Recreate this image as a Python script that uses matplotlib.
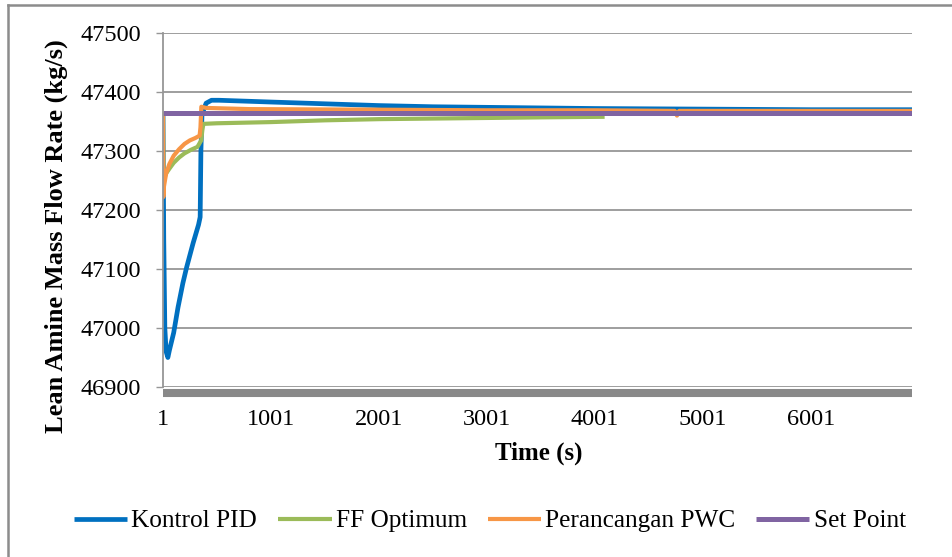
import matplotlib
matplotlib.use("Agg")
import matplotlib.pyplot as plt
from matplotlib.lines import Line2D

# Time knots (s) and lean amine flow (kg/s) for each control scheme
pid_t = [1, 8, 18, 30, 46, 60, 100, 140, 185, 220, 280, 330, 345, 352, 362,
         400, 450, 520, 1000, 1500, 2000, 2500, 3000, 4000, 5000, 6000, 6936]
pid_v = [47365, 47150, 47000, 46960, 46950, 46962, 46992, 47035, 47076, 47103,
         47144, 47175, 47188, 47300, 47362, 47381, 47386, 47386, 47383, 47380,
         47377, 47375, 47374, 47372, 47371, 47370, 47370]

ff_t = [1, 5, 30, 60, 100, 150, 200, 260, 320, 355, 365, 375, 500, 1000, 1500,
        2000, 2500, 3000, 3500, 4090]
ff_v = [47365, 47251, 47262, 47270, 47280, 47289, 47296, 47302, 47307, 47318,
        47335, 47346, 47347, 47349, 47352, 47354, 47355, 47356, 47357, 47358]

pwc_t = [1, 4, 10, 30, 60, 100, 150, 200, 250, 300, 340, 348, 356, 400, 800,
         2000, 3000, 4000, 4740, 4760, 4780, 5500, 6936]
pwc_v = [47365, 47222, 47240, 47262, 47278, 47292, 47303, 47312, 47318, 47322,
         47326, 47340, 47375, 47373, 47371, 47370, 47369, 47369, 47368, 47360,
         47368, 47368, 47368]

sp_t = [1, 6936]
sp_v = [47365, 47365]

x_ticks = [1, 1001, 2001, 3001, 4001, 5001, 6001]
y_ticks = [46900, 47000, 47100, 47200, 47300, 47400, 47500]

series = [
    ("Kontrol PID", pid_t, pid_v, "#0070C0", 3.4),
    ("FF Optimum", ff_t, ff_v, "#9BBB59", 3.0),
    ("Perancangan PWC", pwc_t, pwc_v, "#F79646", 3.0),
    ("Set Point", sp_t, sp_v, "#8064A2", 3.6),
]

plt.rcParams["font.family"] = ["Liberation Serif", "DejaVu Serif"]

fig = plt.figure(figsize=(9.53, 5.57), dpi=100)
ax = fig.add_axes([163 / 953, 1 - 387 / 557, (912 - 163) / 953, (387 - 33) / 557])

handles = []
for name, t, v, c, lw in series:
    h, = ax.plot(t, v, color=c, lw=lw, solid_capstyle="butt",
                 solid_joinstyle="round", label=name)
    handles.append(h)

ax.set_xlim(1, 6936)
ax.set_ylim(46900, 47500)
ax.set_xticks(x_ticks)
ax.set_xticklabels([str(x) for x in x_ticks])
ax.set_yticks(y_ticks)
ax.set_yticklabels([str(y) for y in y_ticks])

ax.grid(axis="y", color="#969696", lw=1.3)
ax.set_axisbelow(True)
for s in ("top", "right"):
    ax.spines[s].set_visible(False)
ax.spines["left"].set_color("#969696")
ax.spines["left"].set_linewidth(1.3)
ax.spines["bottom"].set_color("#898989")
ax.spines["bottom"].set_linewidth(5.8)
ax.spines["bottom"].set_position(("outward", 4))
ax.spines["bottom"].set_capstyle("butt")

ax.tick_params(axis="y", labelsize=17.5, length=5, width=1, color="#969696",
               pad=11)
ax.tick_params(axis="x", labelsize=17.5, length=0, pad=12)

ax.set_ylabel("Lean Amine Mass Flow Rate (kg/s)", fontsize=19,
              fontweight="bold", va="center")
ax.yaxis.set_label_coords(-0.143, 0.4266)
ax.set_xlabel("Time (s)", fontsize=18, fontweight="bold", va="center")
ax.xaxis.set_label_coords(0.502, -0.186)

fig.legend(handles=handles, loc="center", ncol=4,
           bbox_to_anchor=(490 / 953, 1 - 521 / 557), frameon=False,
           fontsize=18.2, handlelength=2.1, handletextpad=0.16,
           columnspacing=0.84)

# outer chart border (left and top edges)
fig.add_artist(Line2D([8 / 953, 8 / 953], [0, 1 - 5 / 557],
                      transform=fig.transFigure, color="#8c8c8c", lw=1.8))
fig.add_artist(Line2D([8 / 953, 1], [1 - 5 / 557, 1 - 5 / 557],
                      transform=fig.transFigure, color="#8c8c8c", lw=1.8))

fig.savefig("out.png", dpi=100)
